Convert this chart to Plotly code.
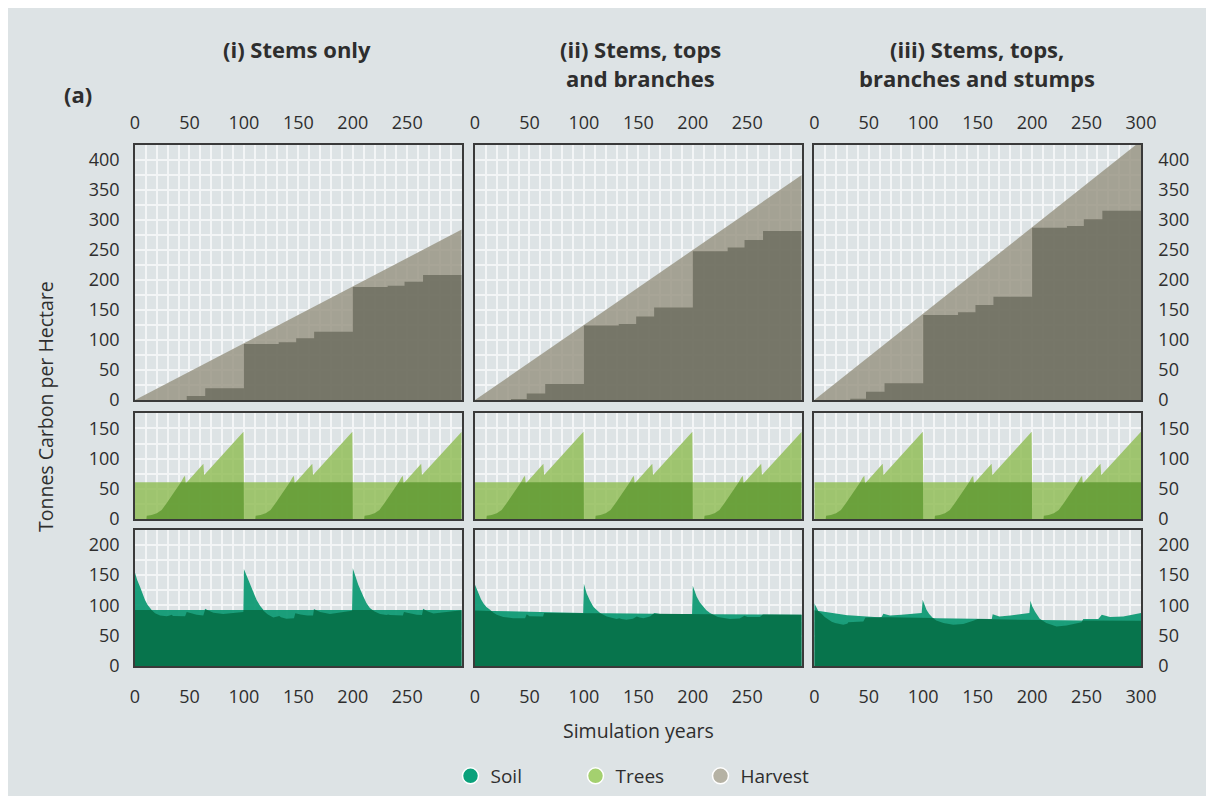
import numpy as np
import plotly.graph_objects as go
from plotly.subplots import make_subplots

# ---------------- data ----------------
x_ticks_short = [0, 50, 100, 150, 200, 250]
x_ticks_full = [0, 50, 100, 150, 200, 250, 300]
harvest_ticks = [0, 50, 100, 150, 200, 250, 300, 350, 400]
trees_ticks = [0, 50, 100, 150]
soil_ticks = [0, 50, 100, 150, 200]

panel_titles = [["(i) Stems only"],
                ["(ii) Stems, tops", "and branches"],
                ["(iii) Stems, tops,", "branches and stumps"]]

# cumulative harvest (straight line)
harvest_total_years = [0, 300]
harvest_total_i = [0, 284]
harvest_total_ii = [0, 375]
harvest_total_iii = [0, 432]

# harvest still stored (stepped)
harvest_step_years = [0, 33, 47.5, 64.5, 100, 132, 148, 164.5, 200, 232, 247.5, 264.5, 300]
harvest_kept_i = [0, 0, 6.7, 19.4, 93.3, 96.1, 102.8, 113.9, 188.5, 190.6, 197.2, 208.3, 208.3]
harvest_kept_ii = [0, 1.7, 11.0, 26.7, 124.0, 126.7, 139.0, 154.0, 248.0, 254.0, 266.7, 281.7, 281.7]
harvest_kept_iii = [0, 2.2, 13.9, 27.8, 141.7, 146.1, 158.3, 172.2, 287.2, 290.0, 301.1, 315.6, 315.6]

# trees (identical in the three regimes)
tree_years = [0, 10.5, 10.8, 15.3, 20, 24.5, 29, 33.7, 39.8, 44.4, 45.9, 46.6, 62.8, 63.5, 99.6,
              100, 110.5, 110.8, 115.3, 120, 124.5, 129, 133.7, 139.8, 144.4, 145.9, 146.6, 162.8, 163.5, 199.6,
              200, 210.5, 210.8, 215.3, 220, 224.5, 229, 233.7, 239.8, 244.4, 245.9, 246.6, 262.8, 263.5, 300]
tree_carbon = [0, 0, 5.5, 6.6, 9.4, 14.9, 25.9, 38.6, 53.4, 68.3, 71.6, 59.0, 91.5, 72.7, 144.4,
               0, 0, 5.5, 6.6, 9.4, 14.9, 25.9, 38.6, 53.4, 68.3, 71.6, 59.0, 91.5, 72.7, 144.4,
               0, 0, 5.5, 6.6, 9.4, 14.9, 25.9, 38.6, 53.4, 68.3, 71.6, 59.0, 91.5, 72.7, 144.4]
tree_mean_years = [0, 300]
tree_mean = [61, 61]

# soil
soil_years_i = [0, 2, 4.6, 7, 9.2, 11.5, 13.8, 16, 18.4, 23, 29, 32, 33.5, 35, 46, 47.5, 52, 56.6, 62.7,
                64.3, 68, 72, 81, 90, 99.5, 100, 102.5, 105.6, 108.5, 111.7, 115, 118, 122, 127, 131,
                132.5, 134, 139, 146, 147.2, 152, 158, 163.5, 164.3, 170, 179, 190, 199.3, 200, 202.5,
                205, 209.6, 212.5, 215.7, 220, 225, 231, 232.5, 234, 240, 246, 247, 252, 258.6, 263.5,
                264.5, 269, 274, 285, 300]
soil_i = [154, 142, 131, 119, 109, 101, 95.6, 91, 87, 83.5, 82, 83.5, 84.6, 82.5, 82, 89, 86.5, 84.6, 83.5,
          94.5, 91, 88, 85.7, 87, 89, 160, 149, 137, 122, 109, 99, 91, 85, 80, 81,
          82.5, 80.5, 78, 79, 87, 85, 83.5, 83.5, 94, 89, 85.7, 88, 91, 161.5, 148,
          134, 115, 104, 95.6, 90, 85.7, 84, 85.2, 84, 83.5, 83.5, 89, 87, 84.6, 84,
          94.5, 90, 86.8, 89, 92]
soil_mean_years_i = [0, 300]
soil_mean_i = [92.5, 92.5]

soil_years_ii = [0, 3, 5.5, 7.7, 10.5, 13.8, 17, 20, 26, 35, 46, 47.5, 50, 52, 62.5, 63.5, 80, 99.3, 100,
                 102.5, 105.5, 108.7, 112, 115, 121, 130, 132.5, 134.5, 139, 145, 148.5, 151, 154.6,
                 160.7, 164.8, 170, 185, 199.3, 200, 203.5, 206.5, 209.7, 212.5, 215.8, 223, 234, 243,
                 247.5, 250, 261.7, 264.8, 268, 300]
soil_ii = [134, 120, 110, 103.7, 97.5, 92.8, 88, 84.5, 80.7, 79, 79, 85.6, 82, 81.8, 81.8, 87.3, 87.5, 87.6, 135.6,
           120, 108, 98, 92, 87.3, 81.8, 77.4, 79, 77.5, 76.3, 78, 81.8, 80, 79,
           81.8, 87.3, 85.8, 85.8, 86, 132.3, 114.7, 105, 98, 92, 87.3, 80.7, 77.4, 78.5,
           82.9, 80.7, 80.7, 85.6, 84.5, 84.5]
soil_mean_years_ii = [0, 50, 100, 150, 200, 250, 300]
soil_mean_ii = [91.5, 89.3, 87.5, 86.3, 85.5, 85.0, 84.5]

soil_years_iii = [0, 1.4, 2.8, 4.5, 6.7, 9.5, 12.9, 16, 19, 26.6, 30.3, 31.2, 38, 45, 47, 55, 61.8, 63.4,
                  69.5, 80, 90, 98.6, 99.5, 101.2, 103, 105.5, 107.7, 112, 118.5, 127.6, 136.8, 146, 149,
                  155, 163, 163.8, 170, 180, 197.5, 198.5, 200, 202.6, 207, 213, 222.5, 231.7, 241, 245.5,
                  247, 260.8, 264, 271.5, 283.7, 300]
soil_iii = [103.7, 98, 92.8, 89, 86.2, 81, 76.3, 73, 70.8, 68, 69.7, 72.4, 73, 73.5, 80.1, 80.5, 80.7, 86.2,
            83.4, 84.5, 86, 87.3, 109.2, 100, 92.8, 86, 80.7, 75.2, 70.8, 68, 69.2, 74.6, 77.4,
            77.4, 77.6, 85.6, 81.8, 83.5, 87.3, 107.6, 99, 90, 77.9, 70.8, 65.3, 67, 70.8, 72.4,
            77.4, 77.4, 84.5, 80.7, 81.8, 87.5]
soil_mean_years_iii = [0, 13, 30, 47, 100, 150, 200, 250, 300]
soil_mean_iii = [92, 88, 84, 81, 79.5, 77.5, 76, 75, 74.5]

legend_names = ["Soil", "Trees", "Harvest"]

# ---------------- styling ----------------
BG = "#dde3e5"
GRID = "#f3f5f6"
FRAME = "#3a3a3a"
TXT = "#2e2e2e"
FONT = "Open Sans"

HARV_LIGHT = "rgba(154,150,134,0.85)"
HARV_DARK = "rgba(111,110,96,0.85)"
TREE_LIGHT = "rgba(147,190,91,0.85)"
TREE_DARK = "rgba(97,155,52,0.85)"
SOIL_LIGHT = "rgba(4,150,110,0.9)"
SOIL_DARK = "rgba(6,111,71,0.9)"
LEG_COLORS = ["#0aa17b", "#a4d06f", "#b5b2a4"]

W, H = 1198, 788          # page adds 8px body margin
OFF = 8
ML, MR, MT, MB = 127, 65, 137, 130
PW = W - ML - MR
PH = H - MT - MB


def px(xs):  # screen x -> paper
    return (xs - OFF - ML) / PW


def py(ys):  # screen y -> paper
    return (H - MB - (ys - OFF)) / PH


def envelopes(xa, ya, xb, yb):
    """lower / upper envelope of two piecewise-linear series"""
    xa, ya, xb, yb = map(lambda v: np.asarray(v, float), (xa, ya, xb, yb))
    xs = np.union1d(xa, xb)
    fa = np.interp(xs, xa, ya)
    fb = np.interp(xs, xb, yb)
    lx, ly, ux, uy = [xs[0]], [min(fa[0], fb[0])], [xs[0]], [max(fa[0], fb[0])]
    for i in range(1, len(xs)):
        d0 = fa[i - 1] - fb[i - 1]
        d1 = fa[i] - fb[i]
        if d0 * d1 < 0:
            t = d0 / (d0 - d1)
            xc = xs[i - 1] + t * (xs[i] - xs[i - 1])
            yc = fa[i - 1] + t * (fa[i] - fa[i - 1])
            lx.append(xc); ly.append(yc); ux.append(xc); uy.append(yc)
        lx.append(xs[i]); ly.append(min(fa[i], fb[i]))
        ux.append(xs[i]); uy.append(max(fa[i], fb[i]))
    return lx, ly, ux, uy


col_px = [(135, 461.7), (475, 801.7), (814.3, 1141)]
row_px = [(145, 400), (413.3, 519), (529.7, 666)]
row_ranges = [[0, 425], [0, 175], [0, 225]]
row_ticks = [harvest_ticks, trees_ticks, soil_ticks]

fig = make_subplots(rows=3, cols=3)

# legend entries
for name, colr in zip(legend_names, LEG_COLORS):
    fig.add_trace(go.Scatter(x=[None], y=[None], mode="markers", name=name,
                             marker=dict(size=20, color=colr, line=dict(color="white", width=1.5))),
                  row=1, col=1)

harvest_totals = [harvest_total_i, harvest_total_ii, harvest_total_iii]
harvest_kept = [harvest_kept_i, harvest_kept_ii, harvest_kept_iii]
soil_sets = [(soil_years_i, soil_i, soil_mean_years_i, soil_mean_i),
             (soil_years_ii, soil_ii, soil_mean_years_ii, soil_mean_ii),
             (soil_years_iii, soil_iii, soil_mean_years_iii, soil_mean_iii)]


def area(x, y, color, shape="linear"):
    return go.Scatter(x=x, y=y, mode="lines", fill="tozeroy", fillcolor=color,
                      line=dict(width=0, shape=shape, color=color), hoverinfo="skip",
                      showlegend=False)


for c in range(3):
    # harvest
    fig.add_trace(area(harvest_total_years, harvest_totals[c], HARV_LIGHT), row=1, col=c + 1)
    fig.add_trace(area(harvest_step_years, harvest_kept[c], HARV_DARK, shape="hv"), row=1, col=c + 1)
    # trees
    lx, ly, ux, uy = envelopes(tree_years, tree_carbon, tree_mean_years, tree_mean)
    fig.add_trace(area(ux, uy, TREE_LIGHT), row=2, col=c + 1)
    fig.add_trace(area(lx, ly, TREE_DARK), row=2, col=c + 1)
    # soil
    sy, sv, my, mv = soil_sets[c]
    lx, ly, ux, uy = envelopes(sy, sv, my, mv)
    fig.add_trace(area(ux, uy, SOIL_LIGHT), row=3, col=c + 1)
    fig.add_trace(area(lx, ly, SOIL_DARK), row=3, col=c + 1)

tickfont = dict(family=FONT, size=18, color=TXT)

for r in range(3):
    for c in range(3):
        idx = r * 3 + c + 1
        xn = "xaxis" if idx == 1 else f"xaxis{idx}"
        yn = "yaxis" if idx == 1 else f"yaxis{idx}"
        xt = x_ticks_full if c == 2 else x_ticks_short
        xax = dict(domain=[px(col_px[c][0]), px(col_px[c][1])], range=[0, 300],
                   tickmode="array", tickvals=xt, showgrid=True, gridcolor=GRID, gridwidth=1.5,
                   minor=dict(tickmode="linear", tick0=0, dtick=10, showgrid=True,
                              gridcolor=GRID, gridwidth=1.5),
                   showline=True, mirror=True, linecolor=FRAME, linewidth=1.5, zeroline=False,
                   tickfont=tickfont, fixedrange=True, automargin=False)
        if r == 0:
            xax.update(side="top", showticklabels=True, ticks="outside", ticklen=7,
                       tickcolor="rgba(0,0,0,0)")
        elif r == 1:
            xax.update(showticklabels=False, ticks="")
        else:
            xax.update(side="bottom", showticklabels=True, ticks="outside", ticklen=14,
                       tickcolor="rgba(0,0,0,0)")
        yax = dict(domain=[py(row_px[r][1]), py(row_px[r][0])], range=row_ranges[r],
                   tickmode="array", tickvals=row_ticks[r], showgrid=True, gridcolor=GRID,
                   gridwidth=1.5,
                   minor=dict(tickmode="linear", tick0=0, dtick=25, showgrid=True,
                              gridcolor=GRID, gridwidth=1.5),
                   showline=True, mirror=True, linecolor=FRAME, linewidth=1.5, zeroline=False,
                   tickfont=tickfont, fixedrange=True, automargin=False)
        if c == 0:
            yax.update(side="left", showticklabels=True, ticks="outside", ticklen=10,
                       tickcolor="rgba(0,0,0,0)")
        elif c == 2:
            yax.update(side="right", showticklabels=True, ticks="outside", ticklen=12,
                       tickcolor="rgba(0,0,0,0)")
        else:
            yax.update(showticklabels=False, ticks="")
        fig.layout[xn].update(xax)
        fig.layout[yn].update(yax)

annotations = []
title_font = dict(family=FONT, size=22, color=TXT)
title_centres = [297, 640, 977]
for c, lines in enumerate(panel_titles):
    for k, line in enumerate(lines):
        annotations.append(dict(text=f"<b>{line}</b>", x=px(title_centres[c]), y=py(49 + 29 * k),
                                xref="paper", yref="paper", xanchor="center", yanchor="middle",
                                showarrow=False, font=title_font))
annotations.append(dict(text="<b>(a)</b>", x=px(78), y=py(94), xref="paper", yref="paper",
                        xanchor="center", yanchor="middle", showarrow=False, font=title_font))
annotations.append(dict(text="Tonnes Carbon per Hectare", x=px(45), y=py(407), xref="paper",
                        yref="paper", xanchor="center", yanchor="middle", textangle=-90,
                        showarrow=False, font=dict(family=FONT, size=19.5, color=TXT)))
annotations.append(dict(text="Simulation years", x=px(638), y=py(730), xref="paper",
                        yref="paper", xanchor="center", yanchor="middle", showarrow=False,
                        font=dict(family=FONT, size=19.5, color=TXT)))

fig.update_layout(
    template="none",
    width=W, height=H, autosize=False,
    margin=dict(l=ML, r=MR, t=MT, b=MB, pad=0, autoexpand=False),
    paper_bgcolor=BG, plot_bgcolor=BG,
    font=dict(family=FONT, color=TXT),
    annotations=annotations,
    showlegend=True,
    legend=dict(orientation="h", xref="container", yref="container",
                x=(638 - OFF) / W, xanchor="center", y=1 - (776 - OFF) / H, yanchor="middle",
                font=dict(family=FONT, size=19, color=TXT), bgcolor="rgba(0,0,0,0)",
                entrywidth=80, entrywidthmode="pixels", itemclick=False, itemdoubleclick=False),
    hovermode=False,
)

fig.write_html("out.html")
